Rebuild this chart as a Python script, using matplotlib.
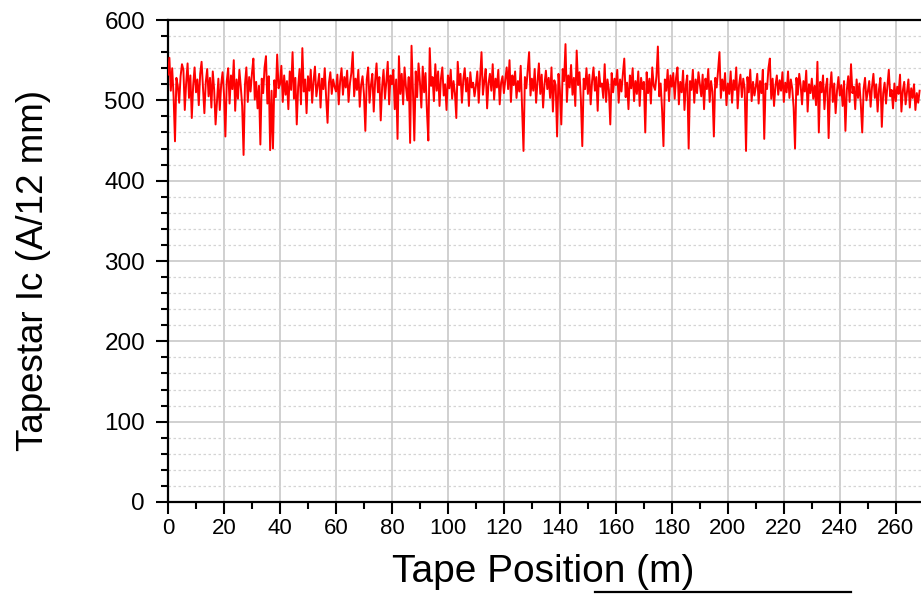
import numpy as np
import matplotlib
matplotlib.use('Agg')
import matplotlib.pyplot as plt
from matplotlib.ticker import MultipleLocator
from matplotlib.lines import Line2D

plt.rcParams['font.family'] = ['Liberation Sans', 'DejaVu Sans']

# Ic readings every 0.5 m along the tape (10 m per row)
ic_values = [
    532, 553, 512, 540, 505, 449, 528, 518, 497, 530, 545, 538, 488, 522, 546, 503, 531, 478, 519, 541,
    510, 526, 494, 533, 548, 517, 484, 523, 539, 505, 528, 491, 536, 513, 470, 499, 527, 488, 520, 535,
    508, 455, 524, 540, 496, 531, 514, 550, 487, 526, 502, 538, 517, 493, 432, 520, 541, 498, 529, 511,
    534, 552, 501, 523, 490, 518, 445, 527, 509, 541, 555, 496, 530, 438, 512, 440, 525, 504, 557, 515,
    520, 543, 498, 531, 507, 524, 489, 536, 513, 560, 502, 528, 470, 517, 539, 495, 565, 511, 526, 484,
    530, 512, 538, 497, 524, 542, 505, 519, 533, 491, 527, 514, 540, 503, 472, 522, 535, 508, 526, 517,
    511, 532, 495, 524, 540, 507, 529, 516, 537, 498, 521, 534, 560, 505, 527, 513, 538, 492, 519, 530,
    508, 462, 526, 541, 497, 519, 533, 486, 524, 546, 510, 529, 475, 517, 538, 502, 523, 548, 495, 531,
    520, 538, 489, 526, 452, 555, 508, 533, 495, 541, 517, 500, 529, 447, 568, 513, 450, 536, 504, 546,
    523, 491, 542, 510, 534, 487, 450, 565, 518, 529, 499, 545, 512, 536, 493, 527, 541, 506, 520, 488,
    531, 515, 538, 502, 524, 509, 478, 548, 519, 533, 497, 526, 540, 511, 528, 493, 535, 516, 522, 505,
    518, 536, 497, 529, 560, 507, 524, 539, 490, 521, 533, 512, 545, 501, 527, 516, 538, 495, 522, 530,
    509, 526, 541, 514, 550, 498, 531, 519, 536, 503, 524, 511, 543, 492, 437, 529, 515, 538, 560, 506,
    527, 512, 539, 497, 523, 546, 508, 532, 491, 520, 537, 514, 528, 503, 541, 486, 525, 519, 455, 533,
    512, 470, 539, 524, 570, 498, 531, 516, 544, 507, 528, 493, 562, 519, 535, 501, 443, 527, 514, 540,
    508, 532, 495, 524, 541, 512, 529, 487, 536, 517, 521, 503, 545, 498, 526, 513, 470, 534, 510, 527,
    519, 538, 497, 526, 511, 533, 552, 504, 522, 489, 531, 515, 540, 499, 524, 508, 536, 493, 528, 514,
    523, 460, 535, 509, 527, 496, 541, 518, 513, 530, 567, 505, 521, 488, 443, 526, 512, 538, 499, 531,
    517, 534, 502, 528, 541, 495, 523, 510, 537, 488, 519, 531, 440, 524, 513, 538, 497, 526, 509, 535,
    520, 505, 532, 489, 527, 514, 539, 498, 524, 511, 455, 528, 516, 537, 560, 503, 526, 512, 534, 494,
    521, 508, 536, 497, 525, 513, 541, 490, 519, 532, 504, 527, 515, 437, 529, 510, 538, 499, 523, 506,
    517, 533, 496, 524, 509, 538, 452, 521, 514, 540, 552, 502, 527, 493, 518, 531, 507, 525, 512, 535,
    498, 522, 510, 536, 503, 526, 515, 491, 440, 528, 507, 533, 519, 495, 524, 511, 537, 486, 520, 509,
    527, 502, 518, 494, 548, 460, 523, 510, 531, 489, 516, 527, 453, 514, 535, 498, 521, 484, 512, 529,
    506, 519, 493, 524, 462, 513, 530, 498, 545, 509, 517, 489, 526, 503, 521, 495, 460, 514, 528, 500,
    511, 524, 492, 517, 533, 503, 520, 486, 514, 528, 467, 509, 522, 496, 518, 538, 505, 513, 490, 521,
    499, 517, 508, 532, 486, 512, 523, 495, 510, 526, 491, 515, 503, 520, 488, 509, 497, 512,
]
step_m = 0.5
tape_pos = np.arange(len(ic_values)) * step_m

x_ticks = list(range(0, 261, 20))
y_ticks = list(range(0, 601, 100))

fig = plt.figure(figsize=(9.21, 5.94), dpi=100)
ax = fig.add_axes([0.1824, 0.1549, 0.8176, 0.8114])

ax.plot(tape_pos, ic_values, color='#ff0000', lw=1.4, zorder=3)

ax.set_xlim(0, 269)
ax.set_ylim(0, 600)
ax.set_xticks(x_ticks)
ax.set_yticks(y_ticks)
ax.xaxis.set_minor_locator(MultipleLocator(10))
ax.yaxis.set_minor_locator(MultipleLocator(20))

ax.grid(which='major', color='#c8c8c8', lw=1.2, ls='-', zorder=0)
ax.grid(which='minor', axis='y', color='#d4d4d4', lw=0.9, ls=(0, (2, 2)), zorder=0)
ax.grid(which='minor', axis='x', visible=False)

for side in ['left', 'bottom', 'top']:
    ax.spines[side].set_linewidth(1.6)
ax.spines['right'].set_visible(False)

ax.tick_params(axis='both', which='major', direction='out', length=8.5, width=1.5,
               color='black', top=False, right=False)
ax.tick_params(axis='both', which='minor', direction='out', length=5, width=1.5,
               top=False, right=False)
ax.tick_params(axis='y', which='major', labelsize=17.5, pad=8)
ax.tick_params(axis='x', which='major', labelsize=16, pad=3)

ax.set_ylabel('Tapestar Ic (A/12 mm)', fontsize=26.5)
ax.set_xlabel('Tape Position (m)', fontsize=28)
ax.yaxis.set_label_coords(-0.156, 0.481)
ax.xaxis.set_label_coords(0.498, -0.108)

# stray border line at the bottom edge
fig.add_artist(Line2D([595 / 921, 851 / 921], [1 - 592 / 594] * 2,
                      transform=fig.transFigure, color='black', lw=1.6))

fig.savefig('out.png', dpi=100)
